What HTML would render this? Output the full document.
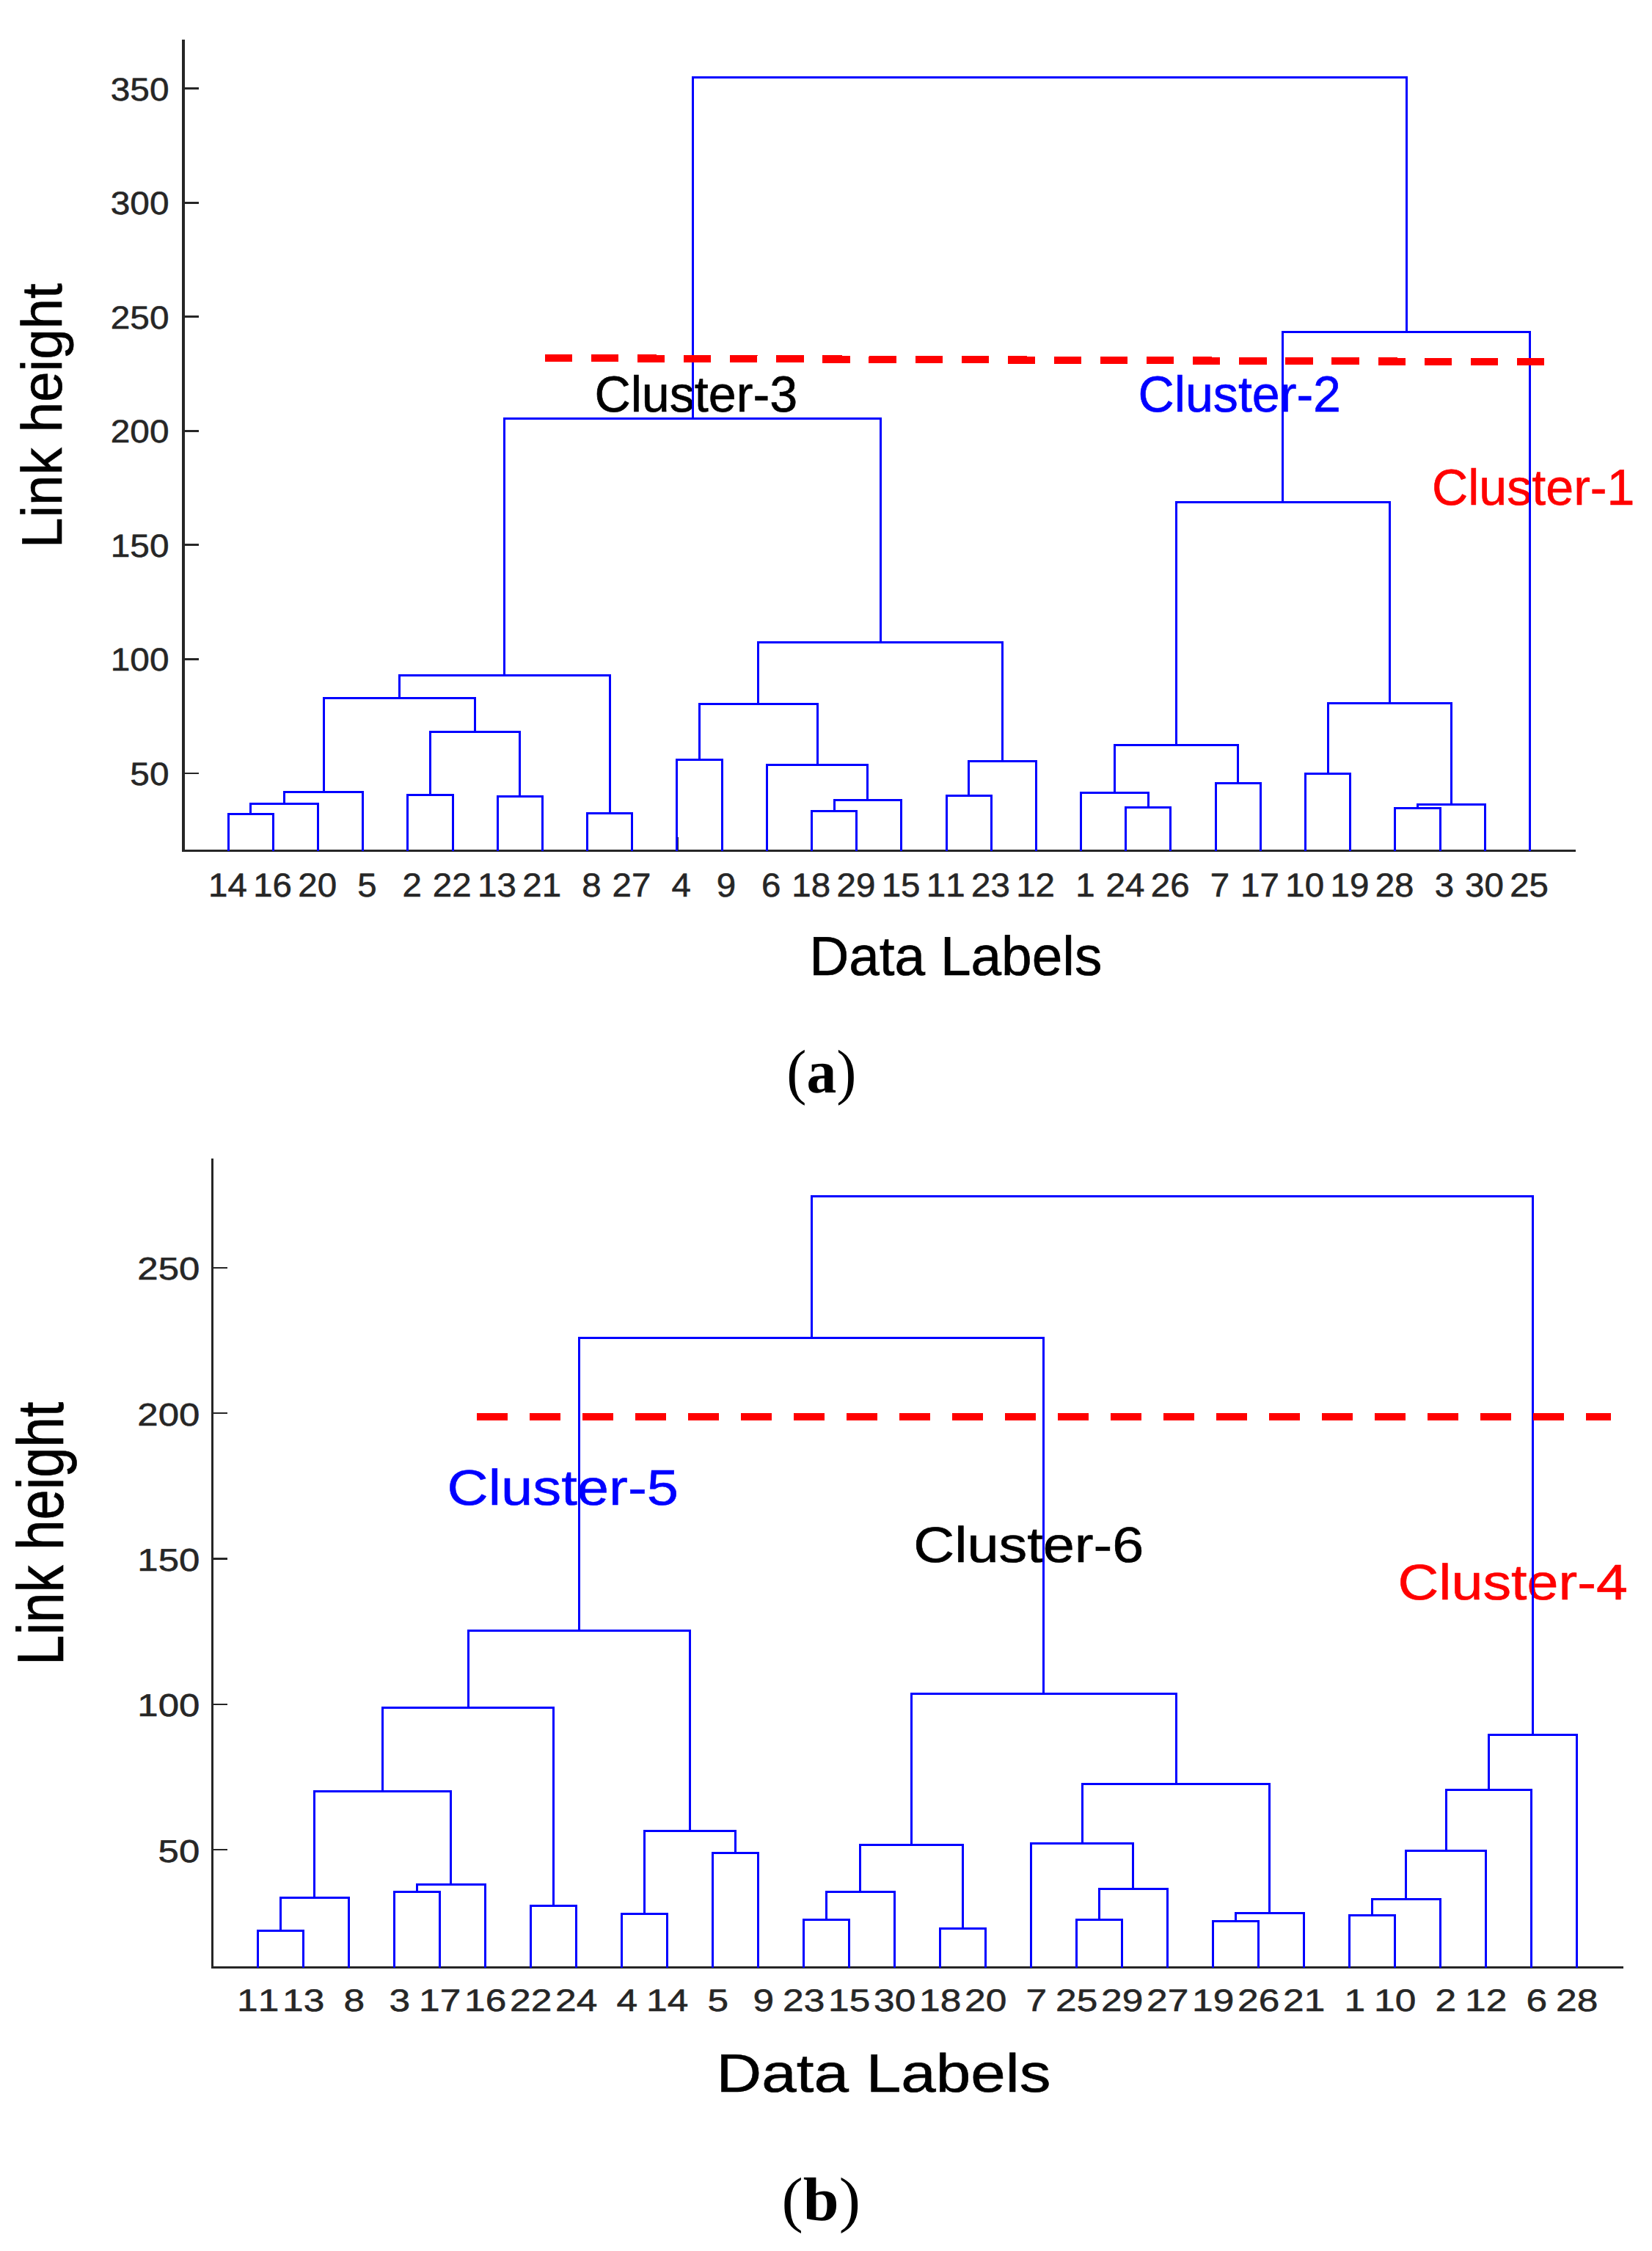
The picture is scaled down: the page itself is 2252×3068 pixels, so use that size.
<!DOCTYPE html>
<html><head><meta charset="utf-8"><title>Dendrograms</title>
<style>html,body{margin:0;padding:0;background:#fff}svg{display:block}rect{shape-rendering:crispEdges}text{font-kerning:none;text-rendering:geometricPrecision}</style></head>
<body><svg width="2252" height="3068" viewBox="0 0 2252 3068">
<rect width="2252" height="3068" fill="#fff"/>
<rect x="248" y="54" width="4" height="1107" fill="#262626"/>
<rect x="248" y="1158" width="1900" height="3" fill="#262626"/>
<rect x="924" y="1141" width="1.2" height="18" fill="#262626"/>
<rect x="250.0" y="119.2" width="20.9" height="2.8" fill="#262626"/>
<text transform="translate(150.79 136.60) scale(0.4780 0.4400)" font-family="'Liberation Sans', sans-serif" font-size="100" fill="#262626" stroke="#262626" stroke-width="1.31">350</text>
<rect x="250.0" y="274.8" width="20.9" height="2.8" fill="#262626"/>
<text transform="translate(150.79 292.15) scale(0.4780 0.4400)" font-family="'Liberation Sans', sans-serif" font-size="100" fill="#262626" stroke="#262626" stroke-width="1.31">300</text>
<rect x="250.0" y="430.3" width="20.9" height="2.8" fill="#262626"/>
<text transform="translate(150.79 447.70) scale(0.4780 0.4400)" font-family="'Liberation Sans', sans-serif" font-size="100" fill="#262626" stroke="#262626" stroke-width="1.31">250</text>
<rect x="250.0" y="585.9" width="20.9" height="2.8" fill="#262626"/>
<text transform="translate(150.79 603.25) scale(0.4780 0.4400)" font-family="'Liberation Sans', sans-serif" font-size="100" fill="#262626" stroke="#262626" stroke-width="1.31">200</text>
<rect x="250.0" y="741.4" width="20.9" height="2.8" fill="#262626"/>
<text transform="translate(150.79 758.80) scale(0.4780 0.4400)" font-family="'Liberation Sans', sans-serif" font-size="100" fill="#262626" stroke="#262626" stroke-width="1.31">150</text>
<rect x="250.0" y="897.0" width="20.9" height="2.8" fill="#262626"/>
<text transform="translate(150.79 914.35) scale(0.4780 0.4400)" font-family="'Liberation Sans', sans-serif" font-size="100" fill="#262626" stroke="#262626" stroke-width="1.31">100</text>
<rect x="250.0" y="1052.5" width="20.9" height="2.8" fill="#262626"/>
<text transform="translate(177.31 1069.90) scale(0.4780 0.4400)" font-family="'Liberation Sans', sans-serif" font-size="100" fill="#262626" stroke="#262626" stroke-width="1.31">50</text>
<text transform="translate(283.96 1221.90) scale(0.4750 0.4550)" font-family="'Liberation Sans', sans-serif" font-size="100" fill="#262626" stroke="#262626" stroke-width="1.29">14</text>
<text transform="translate(345.14 1221.90) scale(0.4750 0.4550)" font-family="'Liberation Sans', sans-serif" font-size="100" fill="#262626" stroke="#262626" stroke-width="1.29">16</text>
<text transform="translate(406.32 1221.90) scale(0.4750 0.4550)" font-family="'Liberation Sans', sans-serif" font-size="100" fill="#262626" stroke="#262626" stroke-width="1.29">20</text>
<text transform="translate(487.31 1221.90) scale(0.4750 0.4550)" font-family="'Liberation Sans', sans-serif" font-size="100" fill="#262626" stroke="#262626" stroke-width="1.29">5</text>
<text transform="translate(548.49 1221.90) scale(0.4750 0.4550)" font-family="'Liberation Sans', sans-serif" font-size="100" fill="#262626" stroke="#262626" stroke-width="1.29">2</text>
<text transform="translate(589.86 1221.90) scale(0.4750 0.4550)" font-family="'Liberation Sans', sans-serif" font-size="100" fill="#262626" stroke="#262626" stroke-width="1.29">22</text>
<text transform="translate(651.04 1221.90) scale(0.4750 0.4550)" font-family="'Liberation Sans', sans-serif" font-size="100" fill="#262626" stroke="#262626" stroke-width="1.29">13</text>
<text transform="translate(712.22 1221.90) scale(0.4750 0.4550)" font-family="'Liberation Sans', sans-serif" font-size="100" fill="#262626" stroke="#262626" stroke-width="1.29">21</text>
<text transform="translate(793.21 1221.90) scale(0.4750 0.4550)" font-family="'Liberation Sans', sans-serif" font-size="100" fill="#262626" stroke="#262626" stroke-width="1.29">8</text>
<text transform="translate(834.58 1221.90) scale(0.4750 0.4550)" font-family="'Liberation Sans', sans-serif" font-size="100" fill="#262626" stroke="#262626" stroke-width="1.29">27</text>
<text transform="translate(915.57 1221.90) scale(0.4750 0.4550)" font-family="'Liberation Sans', sans-serif" font-size="100" fill="#262626" stroke="#262626" stroke-width="1.29">4</text>
<text transform="translate(976.75 1221.90) scale(0.4750 0.4550)" font-family="'Liberation Sans', sans-serif" font-size="100" fill="#262626" stroke="#262626" stroke-width="1.29">9</text>
<text transform="translate(1037.93 1221.90) scale(0.4750 0.4550)" font-family="'Liberation Sans', sans-serif" font-size="100" fill="#262626" stroke="#262626" stroke-width="1.29">6</text>
<text transform="translate(1079.30 1221.90) scale(0.4750 0.4550)" font-family="'Liberation Sans', sans-serif" font-size="100" fill="#262626" stroke="#262626" stroke-width="1.29">18</text>
<text transform="translate(1140.48 1221.90) scale(0.4750 0.4550)" font-family="'Liberation Sans', sans-serif" font-size="100" fill="#262626" stroke="#262626" stroke-width="1.29">29</text>
<text transform="translate(1201.66 1221.90) scale(0.4750 0.4550)" font-family="'Liberation Sans', sans-serif" font-size="100" fill="#262626" stroke="#262626" stroke-width="1.29">15</text>
<text transform="translate(1262.84 1221.90) scale(0.4750 0.4550)" font-family="'Liberation Sans', sans-serif" font-size="100" fill="#262626" stroke="#262626" stroke-width="1.29">11</text>
<text transform="translate(1324.02 1221.90) scale(0.4750 0.4550)" font-family="'Liberation Sans', sans-serif" font-size="100" fill="#262626" stroke="#262626" stroke-width="1.29">23</text>
<text transform="translate(1385.20 1221.90) scale(0.4750 0.4550)" font-family="'Liberation Sans', sans-serif" font-size="100" fill="#262626" stroke="#262626" stroke-width="1.29">12</text>
<text transform="translate(1466.19 1221.90) scale(0.4750 0.4550)" font-family="'Liberation Sans', sans-serif" font-size="100" fill="#262626" stroke="#262626" stroke-width="1.29">1</text>
<text transform="translate(1507.56 1221.90) scale(0.4750 0.4550)" font-family="'Liberation Sans', sans-serif" font-size="100" fill="#262626" stroke="#262626" stroke-width="1.29">24</text>
<text transform="translate(1568.74 1221.90) scale(0.4750 0.4550)" font-family="'Liberation Sans', sans-serif" font-size="100" fill="#262626" stroke="#262626" stroke-width="1.29">26</text>
<text transform="translate(1649.73 1221.90) scale(0.4750 0.4550)" font-family="'Liberation Sans', sans-serif" font-size="100" fill="#262626" stroke="#262626" stroke-width="1.29">7</text>
<text transform="translate(1691.10 1221.90) scale(0.4750 0.4550)" font-family="'Liberation Sans', sans-serif" font-size="100" fill="#262626" stroke="#262626" stroke-width="1.29">17</text>
<text transform="translate(1752.28 1221.90) scale(0.4750 0.4550)" font-family="'Liberation Sans', sans-serif" font-size="100" fill="#262626" stroke="#262626" stroke-width="1.29">10</text>
<text transform="translate(1813.46 1221.90) scale(0.4750 0.4550)" font-family="'Liberation Sans', sans-serif" font-size="100" fill="#262626" stroke="#262626" stroke-width="1.29">19</text>
<text transform="translate(1874.64 1221.90) scale(0.4750 0.4550)" font-family="'Liberation Sans', sans-serif" font-size="100" fill="#262626" stroke="#262626" stroke-width="1.29">28</text>
<text transform="translate(1955.63 1221.90) scale(0.4750 0.4550)" font-family="'Liberation Sans', sans-serif" font-size="100" fill="#262626" stroke="#262626" stroke-width="1.29">3</text>
<text transform="translate(1997.00 1221.90) scale(0.4750 0.4550)" font-family="'Liberation Sans', sans-serif" font-size="100" fill="#262626" stroke="#262626" stroke-width="1.29">30</text>
<text transform="translate(2058.18 1221.90) scale(0.4750 0.4550)" font-family="'Liberation Sans', sans-serif" font-size="100" fill="#262626" stroke="#262626" stroke-width="1.29">25</text>
<text transform="translate(810.39 561.20) scale(0.6822 0.6899)" font-family="'Liberation Sans', sans-serif" font-size="100" font-weight="normal" fill="#000" stroke="#000" stroke-width="0.87">Cluster-3</text>
<text transform="translate(1551.59 561.10) scale(0.6814 0.6899)" font-family="'Liberation Sans', sans-serif" font-size="100" font-weight="normal" fill="#0000ff" stroke="#0000ff" stroke-width="0.88">Cluster-2</text>
<text transform="translate(1951.89 688.00) scale(0.6818 0.6899)" font-family="'Liberation Sans', sans-serif" font-size="100" font-weight="normal" fill="#ff0000" stroke="#ff0000" stroke-width="0.87">Cluster-1</text>
<text transform="translate(1103.22 1329.40) scale(0.7477 0.7507)" font-family="'Liberation Sans', sans-serif" font-size="100" font-weight="normal" fill="#000" stroke="#000" stroke-width="0.80">Data Labels</text>
<text transform="translate(84.30 746.97) rotate(-90) scale(0.7459 0.7797)" font-family="'Liberation Sans', sans-serif" font-size="100" fill="#000" stroke="#000" stroke-width="0.79">Link height</text>
<path d="M311.5 1160.0V1108.0M310.0 1109.5H374.0M372.5 1108.0V1160.0M341.5 1109.5V1094.0M340.0 1095.5H435.0M433.5 1094.0V1160.0M387.5 1095.5V1078.0M386.0 1079.5H496.0M494.5 1078.0V1160.0M555.5 1160.0V1082.0M554.0 1083.5H619.0M617.5 1082.0V1160.0M678.5 1160.0V1084.0M677.0 1085.5H741.0M739.5 1084.0V1160.0M586.5 1083.5V996.0M585.0 997.5H710.0M708.5 996.0V1085.5M441.5 1079.5V950.0M440.0 951.5H649.0M647.5 950.0V997.5M800.5 1160.0V1107.0M799.0 1108.5H863.0M861.5 1107.0V1160.0M544.5 951.5V919.0M543.0 920.5H833.0M831.5 919.0V1108.5M922.5 1160.0V1034.0M921.0 1035.5H986.0M984.5 1034.0V1160.0M1106.5 1160.0V1104.0M1105.0 1105.5H1169.0M1167.5 1104.0V1160.0M1137.5 1105.5V1089.0M1136.0 1090.5H1230.0M1228.5 1089.0V1160.0M1045.5 1160.0V1041.0M1044.0 1042.5H1184.0M1182.5 1041.0V1090.5M953.5 1035.5V958.0M952.0 959.5H1116.0M1114.5 958.0V1042.5M1290.5 1160.0V1083.0M1289.0 1084.5H1353.0M1351.5 1083.0V1160.0M1320.5 1084.5V1036.0M1319.0 1037.5H1414.0M1412.5 1036.0V1160.0M1033.5 959.5V874.0M1032.0 875.5H1368.0M1366.5 874.0V1037.5M687.5 920.5V569.0M686.0 570.5H1202.0M1200.5 569.0V875.5M1534.5 1160.0V1099.0M1533.0 1100.5H1597.0M1595.5 1099.0V1160.0M1473.5 1160.0V1079.0M1472.0 1080.5H1567.0M1565.5 1079.0V1100.5M1657.5 1160.0V1066.0M1656.0 1067.5H1720.0M1718.5 1066.0V1160.0M1519.5 1080.5V1014.0M1518.0 1015.5H1689.0M1687.5 1014.0V1067.5M1779.5 1160.0V1053.0M1778.0 1054.5H1842.0M1840.5 1053.0V1160.0M1901.5 1160.0V1100.0M1900.0 1101.5H1965.0M1963.5 1100.0V1160.0M1932.5 1101.5V1095.0M1931.0 1096.5H2026.0M2024.5 1095.0V1160.0M1810.5 1054.5V957.0M1809.0 958.5H1980.0M1978.5 957.0V1096.5M1603.5 1015.5V683.0M1602.0 684.5H1896.0M1894.5 683.0V958.5M1748.5 684.5V451.0M1747.0 452.5H2087.0M2085.5 451.0V1160.0M944.5 570.5V104.0M943.0 105.5H1919.0M1917.5 104.0V452.5" fill="none" stroke="#0000ff" stroke-width="3" stroke-linejoin="miter" stroke-linecap="butt" shape-rendering="crispEdges"/>
<line x1="742.8" y1="488.0" x2="2105" y2="493.4" stroke="#ff0000" stroke-width="10.2" stroke-dasharray="37.3 25.8" shape-rendering="crispEdges"/>
<rect x="288" y="1579" width="3" height="1104" fill="#262626"/>
<rect x="288" y="2680" width="1924.5" height="3" fill="#262626"/>
<rect x="289.7" y="1726.7" width="20.2" height="2.2" fill="#262626"/>
<text transform="translate(187.27 1744.30) scale(0.5100 0.4330)" font-family="'Liberation Sans', sans-serif" font-size="100" fill="#262626" stroke="#262626" stroke-width="1.28">250</text>
<rect x="289.7" y="1925.0" width="20.2" height="2.2" fill="#262626"/>
<text transform="translate(187.27 1942.65) scale(0.5100 0.4330)" font-family="'Liberation Sans', sans-serif" font-size="100" fill="#262626" stroke="#262626" stroke-width="1.28">200</text>
<rect x="289.7" y="2123.4" width="20.2" height="2.2" fill="#262626"/>
<text transform="translate(187.27 2141.00) scale(0.5100 0.4330)" font-family="'Liberation Sans', sans-serif" font-size="100" fill="#262626" stroke="#262626" stroke-width="1.28">150</text>
<rect x="289.7" y="2321.8" width="20.2" height="2.2" fill="#262626"/>
<text transform="translate(187.27 2339.35) scale(0.5100 0.4330)" font-family="'Liberation Sans', sans-serif" font-size="100" fill="#262626" stroke="#262626" stroke-width="1.28">100</text>
<rect x="289.7" y="2520.1" width="20.2" height="2.2" fill="#262626"/>
<text transform="translate(215.57 2537.70) scale(0.5100 0.4330)" font-family="'Liberation Sans', sans-serif" font-size="100" fill="#262626" stroke="#262626" stroke-width="1.28">50</text>
<text transform="translate(323.06 2740.90) scale(0.5150 0.4250)" font-family="'Liberation Sans', sans-serif" font-size="100" fill="#262626" stroke="#262626" stroke-width="1.28">11</text>
<text transform="translate(385.06 2740.90) scale(0.5150 0.4250)" font-family="'Liberation Sans', sans-serif" font-size="100" fill="#262626" stroke="#262626" stroke-width="1.28">13</text>
<text transform="translate(468.58 2740.90) scale(0.5150 0.4250)" font-family="'Liberation Sans', sans-serif" font-size="100" fill="#262626" stroke="#262626" stroke-width="1.28">8</text>
<text transform="translate(530.58 2740.90) scale(0.5150 0.4250)" font-family="'Liberation Sans', sans-serif" font-size="100" fill="#262626" stroke="#262626" stroke-width="1.28">3</text>
<text transform="translate(571.06 2740.90) scale(0.5150 0.4250)" font-family="'Liberation Sans', sans-serif" font-size="100" fill="#262626" stroke="#262626" stroke-width="1.28">17</text>
<text transform="translate(633.06 2740.90) scale(0.5150 0.4250)" font-family="'Liberation Sans', sans-serif" font-size="100" fill="#262626" stroke="#262626" stroke-width="1.28">16</text>
<text transform="translate(695.06 2740.90) scale(0.5150 0.4250)" font-family="'Liberation Sans', sans-serif" font-size="100" fill="#262626" stroke="#262626" stroke-width="1.28">22</text>
<text transform="translate(757.06 2740.90) scale(0.5150 0.4250)" font-family="'Liberation Sans', sans-serif" font-size="100" fill="#262626" stroke="#262626" stroke-width="1.28">24</text>
<text transform="translate(840.58 2740.90) scale(0.5150 0.4250)" font-family="'Liberation Sans', sans-serif" font-size="100" fill="#262626" stroke="#262626" stroke-width="1.28">4</text>
<text transform="translate(881.06 2740.90) scale(0.5150 0.4250)" font-family="'Liberation Sans', sans-serif" font-size="100" fill="#262626" stroke="#262626" stroke-width="1.28">14</text>
<text transform="translate(964.58 2740.90) scale(0.5150 0.4250)" font-family="'Liberation Sans', sans-serif" font-size="100" fill="#262626" stroke="#262626" stroke-width="1.28">5</text>
<text transform="translate(1026.58 2740.90) scale(0.5150 0.4250)" font-family="'Liberation Sans', sans-serif" font-size="100" fill="#262626" stroke="#262626" stroke-width="1.28">9</text>
<text transform="translate(1067.06 2740.90) scale(0.5150 0.4250)" font-family="'Liberation Sans', sans-serif" font-size="100" fill="#262626" stroke="#262626" stroke-width="1.28">23</text>
<text transform="translate(1129.06 2740.90) scale(0.5150 0.4250)" font-family="'Liberation Sans', sans-serif" font-size="100" fill="#262626" stroke="#262626" stroke-width="1.28">15</text>
<text transform="translate(1191.06 2740.90) scale(0.5150 0.4250)" font-family="'Liberation Sans', sans-serif" font-size="100" fill="#262626" stroke="#262626" stroke-width="1.28">30</text>
<text transform="translate(1253.06 2740.90) scale(0.5150 0.4250)" font-family="'Liberation Sans', sans-serif" font-size="100" fill="#262626" stroke="#262626" stroke-width="1.28">18</text>
<text transform="translate(1315.06 2740.90) scale(0.5150 0.4250)" font-family="'Liberation Sans', sans-serif" font-size="100" fill="#262626" stroke="#262626" stroke-width="1.28">20</text>
<text transform="translate(1398.58 2740.90) scale(0.5150 0.4250)" font-family="'Liberation Sans', sans-serif" font-size="100" fill="#262626" stroke="#262626" stroke-width="1.28">7</text>
<text transform="translate(1439.06 2740.90) scale(0.5150 0.4250)" font-family="'Liberation Sans', sans-serif" font-size="100" fill="#262626" stroke="#262626" stroke-width="1.28">25</text>
<text transform="translate(1501.06 2740.90) scale(0.5150 0.4250)" font-family="'Liberation Sans', sans-serif" font-size="100" fill="#262626" stroke="#262626" stroke-width="1.28">29</text>
<text transform="translate(1563.06 2740.90) scale(0.5150 0.4250)" font-family="'Liberation Sans', sans-serif" font-size="100" fill="#262626" stroke="#262626" stroke-width="1.28">27</text>
<text transform="translate(1625.06 2740.90) scale(0.5150 0.4250)" font-family="'Liberation Sans', sans-serif" font-size="100" fill="#262626" stroke="#262626" stroke-width="1.28">19</text>
<text transform="translate(1687.06 2740.90) scale(0.5150 0.4250)" font-family="'Liberation Sans', sans-serif" font-size="100" fill="#262626" stroke="#262626" stroke-width="1.28">26</text>
<text transform="translate(1749.06 2740.90) scale(0.5150 0.4250)" font-family="'Liberation Sans', sans-serif" font-size="100" fill="#262626" stroke="#262626" stroke-width="1.28">21</text>
<text transform="translate(1832.58 2740.90) scale(0.5150 0.4250)" font-family="'Liberation Sans', sans-serif" font-size="100" fill="#262626" stroke="#262626" stroke-width="1.28">1</text>
<text transform="translate(1873.06 2740.90) scale(0.5150 0.4250)" font-family="'Liberation Sans', sans-serif" font-size="100" fill="#262626" stroke="#262626" stroke-width="1.28">10</text>
<text transform="translate(1956.58 2740.90) scale(0.5150 0.4250)" font-family="'Liberation Sans', sans-serif" font-size="100" fill="#262626" stroke="#262626" stroke-width="1.28">2</text>
<text transform="translate(1997.06 2740.90) scale(0.5150 0.4250)" font-family="'Liberation Sans', sans-serif" font-size="100" fill="#262626" stroke="#262626" stroke-width="1.28">12</text>
<text transform="translate(2080.58 2740.90) scale(0.5150 0.4250)" font-family="'Liberation Sans', sans-serif" font-size="100" fill="#262626" stroke="#262626" stroke-width="1.28">6</text>
<text transform="translate(2121.06 2740.90) scale(0.5150 0.4250)" font-family="'Liberation Sans', sans-serif" font-size="100" fill="#262626" stroke="#262626" stroke-width="1.28">28</text>
<text transform="translate(609.61 2050.80) scale(0.7776 0.6812)" font-family="'Liberation Sans', sans-serif" font-size="100" font-weight="normal" fill="#0000ff" stroke="#0000ff" stroke-width="0.82">Cluster-5</text>
<text transform="translate(1245.33 2128.90) scale(0.7740 0.6812)" font-family="'Liberation Sans', sans-serif" font-size="100" font-weight="normal" fill="#000" stroke="#000" stroke-width="0.83">Cluster-6</text>
<text transform="translate(1905.44 2180.00) scale(0.7728 0.6812)" font-family="'Liberation Sans', sans-serif" font-size="100" font-weight="normal" fill="#ff0000" stroke="#ff0000" stroke-width="0.83">Cluster-4</text>
<text transform="translate(976.46 2851.00) scale(0.8544 0.7362)" font-family="'Liberation Sans', sans-serif" font-size="100" font-weight="normal" fill="#000" stroke="#000" stroke-width="0.76">Data Labels</text>
<text transform="translate(86.00 2269.64) rotate(-90) scale(0.7423 0.8928)" font-family="'Liberation Sans', sans-serif" font-size="100" fill="#000" stroke="#000" stroke-width="0.74">Link height</text>
<path d="M351.5 2682.0V2630.0M350.0 2631.5H415.0M413.5 2630.0V2682.0M382.5 2631.5V2585.0M381.0 2586.5H477.0M475.5 2585.0V2682.0M537.5 2682.0V2577.0M536.0 2578.5H601.0M599.5 2577.0V2682.0M568.5 2578.5V2567.0M567.0 2568.5H663.0M661.5 2567.0V2682.0M428.5 2586.5V2440.0M427.0 2441.5H616.0M614.5 2440.0V2568.5M723.5 2682.0V2596.0M722.0 2597.5H787.0M785.5 2596.0V2682.0M521.5 2441.5V2326.0M520.0 2327.5H756.0M754.5 2326.0V2597.5M847.5 2682.0V2607.0M846.0 2608.5H911.0M909.5 2607.0V2682.0M971.5 2682.0V2524.0M970.0 2525.5H1035.0M1033.5 2524.0V2682.0M878.5 2608.5V2494.0M877.0 2495.5H1004.0M1002.5 2494.0V2525.5M638.5 2327.5V2221.0M637.0 2222.5H942.0M940.5 2221.0V2495.5M1095.5 2682.0V2615.0M1094.0 2616.5H1159.0M1157.5 2615.0V2682.0M1126.5 2616.5V2577.0M1125.0 2578.5H1221.0M1219.5 2577.0V2682.0M1281.5 2682.0V2627.0M1280.0 2628.5H1345.0M1343.5 2627.0V2682.0M1172.5 2578.5V2513.0M1171.0 2514.5H1314.0M1312.5 2513.0V2628.5M1467.5 2682.0V2615.0M1466.0 2616.5H1531.0M1529.5 2615.0V2682.0M1498.5 2616.5V2573.0M1497.0 2574.5H1593.0M1591.5 2573.0V2682.0M1405.5 2682.0V2511.0M1404.0 2512.5H1546.0M1544.5 2511.0V2574.5M1653.5 2682.0V2617.0M1652.0 2618.5H1717.0M1715.5 2617.0V2682.0M1684.5 2618.5V2606.0M1683.0 2607.5H1779.0M1777.5 2606.0V2682.0M1475.5 2512.5V2430.0M1474.0 2431.5H1732.0M1730.5 2430.0V2607.5M1242.5 2514.5V2307.0M1241.0 2308.5H1605.0M1603.5 2307.0V2431.5M789.5 2222.5V1822.0M788.0 1823.5H1424.0M1422.5 1822.0V2308.5M1839.5 2682.0V2609.0M1838.0 2610.5H1903.0M1901.5 2609.0V2682.0M1870.5 2610.5V2587.0M1869.0 2588.5H1965.0M1963.5 2587.0V2682.0M1916.5 2588.5V2521.0M1915.0 2522.5H2027.0M2025.5 2521.0V2682.0M1971.5 2522.5V2438.0M1970.0 2439.5H2089.0M2087.5 2438.0V2682.0M2029.5 2439.5V2363.0M2028.0 2364.5H2151.0M2149.5 2363.0V2682.0M1106.5 1823.5V1629.0M1105.0 1630.5H2091.0M2089.5 1629.0V2364.5" fill="none" stroke="#0000ff" stroke-width="3" stroke-linejoin="miter" stroke-linecap="butt" shape-rendering="crispEdges"/>
<line x1="649.9" y1="1930.8" x2="2196.2" y2="1930.8" stroke="#ff0000" stroke-width="10" stroke-dasharray="42.1 29.9" shape-rendering="crispEdges"/>
<text transform="translate(1072.33 1489.10) scale(0.9736 1)" font-family="'Liberation Serif', serif" font-size="83.85" fill="#000">(<tspan font-weight="bold">a</tspan>)</text>
<text transform="translate(1065.54 3025.90) scale(1.0456 1)" font-family="'Liberation Serif', serif" font-size="84.07" fill="#000">(<tspan font-weight="bold">b</tspan>)</text>
</svg></body></html>
